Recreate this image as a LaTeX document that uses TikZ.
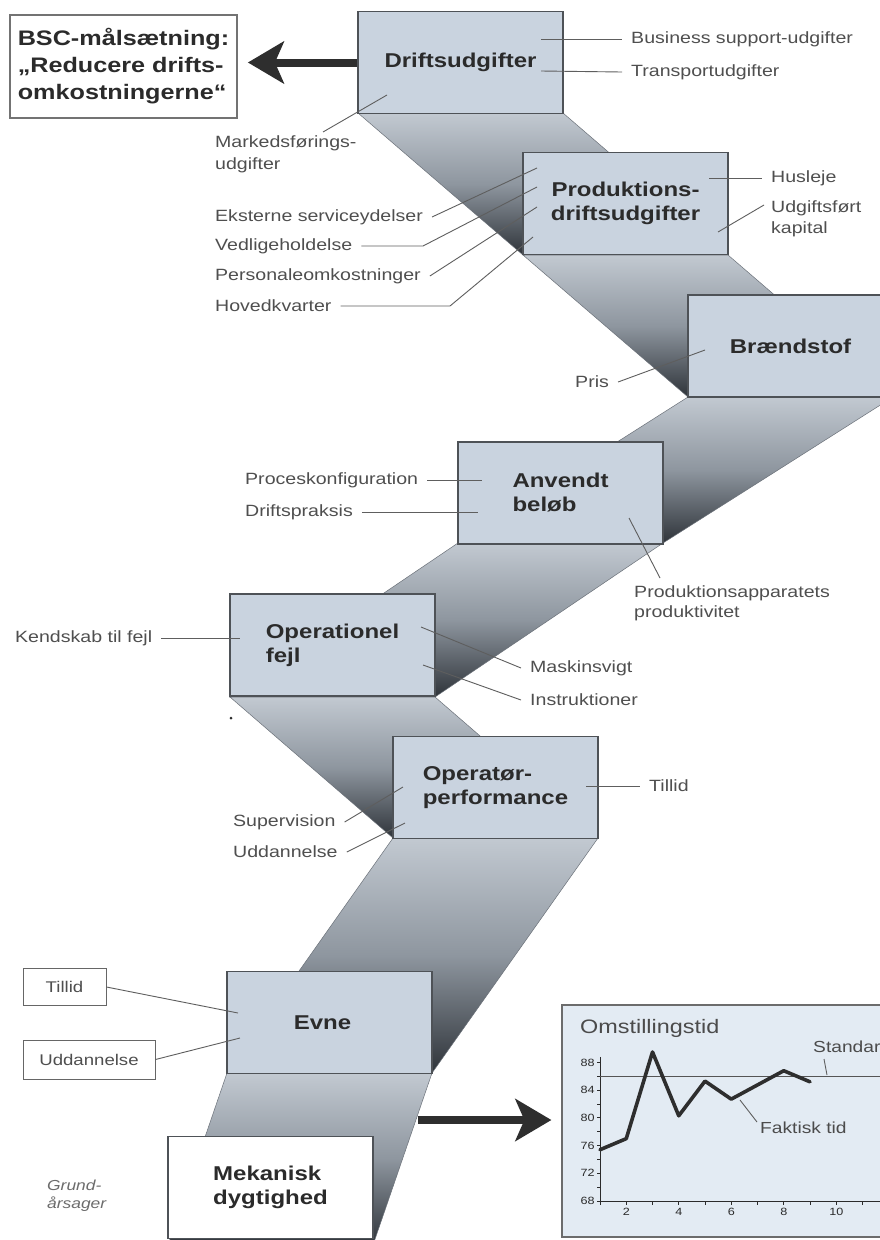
\documentclass[tikz,border=0pt]{standalone}
\usepackage{fontspec}
\setmainfont{Liberation Sans}[FakeStretch=1.2]
\usetikzlibrary{arrows.meta}

\definecolor{boxfill}{HTML}{C9D3DF}
\definecolor{boxline}{HTML}{4E5257}
\definecolor{ribtop}{HTML}{C2C9D1}
\definecolor{ribmid}{HTML}{8E969F}
\definecolor{ribbot}{HTML}{2F343A}
\definecolor{ribedge}{HTML}{6B7179}
\definecolor{txtdark}{HTML}{2B2B2B}
\definecolor{txtgray}{HTML}{4F4F4F}
\definecolor{leadcol}{HTML}{5E5E5E}
\definecolor{chartfill}{HTML}{E3EBF3}
\definecolor{arrowcol}{HTML}{2E2E2E}

\begin{document}
\begin{tikzpicture}[x=1pt,y=-1pt,
  stepbox/.style={draw=boxline, line width=1.1pt, fill=boxfill, inner sep=0pt,
    minimum width=205pt, minimum height=102pt, align=left, text=txtdark,
    font=\bfseries\fontsize{20}{24}\selectfont},
  rootbox/.style={stepbox, fill=white},
  goalbox/.style={draw=gray!90!black, line width=1.8pt, fill=white, inner sep=0pt,
    minimum width=227pt, minimum height=103pt, align=left, text=txtdark,
    font=\bfseries\fontsize{21}{27}\selectfont},
  lbl/.style={font=\fontsize{16.3}{21}\selectfont, text=txtgray, inner xsep=9pt,
    inner ysep=1pt, anchor=west, align=left},
  smallbox/.style={draw=gray!80!black, line width=1pt, fill=white, inner sep=0pt,
    font=\fontsize{15.5}{18}\selectfont, text=txtgray},
  lead/.style={draw=leadcol, line width=0.9pt},
  ribbon/.style={top color=ribtop, bottom color=ribbot, middle color=ribmid,
    draw=ribedge, line width=0.5pt},
  bigarrow/.style={draw=arrowcol, line width=8pt, shorten >=10pt,
    -{Stealth[length=36pt,width=42pt,inset=9pt]}},
]
\useasboundingbox (0,0) rectangle (880,1240);
\fill[white] (0,0) rectangle (880,1240);
\clip (0,0) rectangle (880,1240);

% folded band running down the staircase
\shadedraw[ribbon] (358,113) -- (563,113) -- (728,255) -- (523,255) -- cycle;
\shadedraw[ribbon] (523,255) -- (728,255) -- (893,397) -- (688,397) -- cycle;
\shadedraw[ribbon] (688,397) -- (893,397) -- (663,543) -- (458,543) -- cycle;
\shadedraw[ribbon] (458,543) -- (663,543) -- (435,697) -- (230,697) -- cycle;
\shadedraw[ribbon] (230,697) -- (435,697) -- (598,838) -- (393,838) -- cycle;
\shadedraw[ribbon] (393,838) -- (598,838) -- (432,1073) -- (227,1073) -- cycle;
\shadedraw[ribbon] (227,1073) -- (432,1073) -- (373,1245) -- (168,1245) -- cycle;

% steps
\node[stepbox] (drift) at (460.5,62.5) {Driftsudgifter};
\node[stepbox, align=center] (prod)  at (625.5,203.5) {Produktions-\\driftsudgifter};
\node[stepbox, text depth=0pt] (brand) at (790.5,346) {Brændstof};
\node[stepbox] (anv)   at (560.5,493) {Anvendt\\beløb};
\node[stepbox] (opf)   at (332.5,645) {Operationel\\fejl};
\node[stepbox] (opp)   at (495.5,787.5) {Operatør-\\performance};
\node[stepbox, text width=190pt, align=center] (evne)  at (329.5,1022.5) {\hspace*{-14pt}Evne};
\node[rootbox] (mek)   at (270.5,1187.5) {Mekanisk\\dygtighed};

% goal
\node[goalbox] (bsc) at (123.5,66.5) {BSC-målsætning:\\„Reducere drifts-\\omkostningerne“};
\draw[bigarrow] (drift.west) -- (bsc.east |- drift.west);

% labels around the steps
\node[lbl] (l-bsu) at (622,39) {Business support-udgifter};
\node[lbl] (l-tra) at (622,72) {Transportudgifter};
\node[lbl, font=\fontsize{16.3}{22}\selectfont] (l-mar) at (206,154) {Markedsførings-\\udgifter};
\node[lbl] (l-hus) at (762,178) {Husleje};
\node[lbl] (l-udg) at (762,219) {Udgiftsført\\kapital};
\node[lbl] (l-eks) at (206,217) {Eksterne serviceydelser};
\node[lbl] (l-ved) at (206,246) {Vedligeholdelse};
\node[lbl] (l-per) at (206,276) {Personaleomkostninger};
\node[lbl] (l-hov) at (206,306) {Hovedkvarter};
\node[lbl] (l-pri) at (566,382) {Pris};
\node[lbl] (l-pro) at (236,480) {Proceskonfiguration};
\node[lbl] (l-dri) at (236,512) {Driftspraksis};
\node[lbl, font=\fontsize{16.3}{20}\selectfont] (l-pap) at (625,603) {Produktionsapparatets\\produktivitet};
\node[lbl] (l-ken) at (6,638) {Kendskab til fejl};
\node[lbl] (l-mas) at (521,668) {Maskinsvigt};
\node[lbl] (l-ins) at (521,700) {Instruktioner};
\node[lbl] (l-til) at (640,786) {Tillid};
\node[lbl] (l-sup) at (224,822) {Supervision};
\node[lbl] (l-udd) at (224,852) {Uddannelse};

% leader end points
\coordinate (p-bsu) at (541,39);
\coordinate (p-tra) at (541,71);
\coordinate (p-mar) at (387,95);
\coordinate (q-mar) at (323,132);
\coordinate (p-hus) at (709,178);
\coordinate (p-udg) at (718,232);
\coordinate (q-udg) at (764,205);
\coordinate (p-eks) at (537,168);
\coordinate (k-ved) at (423,246);
\coordinate (p-ved) at (537,187);
\coordinate (p-per) at (537,207);
\coordinate (k-hov) at (450,306);
\coordinate (p-hov) at (533,237);
\coordinate (p-pri) at (705,350);
\coordinate (p-pro) at (482,480);
\coordinate (p-dri) at (478,512);
\coordinate (p-pap) at (629,518);
\coordinate (q-pap) at (660,578);
\coordinate (p-ken) at (240,638);
\coordinate (p-mas) at (421,627);
\coordinate (p-ins) at (423,665);
\coordinate (p-til) at (586,786);
\coordinate (p-sup) at (403,787);
\coordinate (p-udd) at (405,823);
\coordinate (p-evt) at (238,1013);
\coordinate (p-evu) at (240,1038);

\draw[lead] (p-bsu) -- (l-bsu.west);
\draw[lead] (p-tra) -- (l-tra.west);
\draw[lead] (p-mar) -- (q-mar);
\draw[lead] (p-hus) -- (l-hus.west);
\draw[lead] (p-udg) -- (q-udg);
\draw[lead] (l-eks.east) -- (p-eks);
\draw[lead] (l-ved.east) -- (k-ved) -- (p-ved);
\draw[lead] (l-per.east) -- (p-per);
\draw[lead] (l-hov.east) -- (k-hov) -- (p-hov);
\draw[lead] (l-pri.east) -- (p-pri);
\draw[lead] (l-pro.east) -- (p-pro);
\draw[lead] (l-dri.east) -- (p-dri);
\draw[lead] (p-pap) -- (q-pap);
\draw[lead] (l-ken.east) -- (p-ken);
\draw[lead] (p-mas) -- (l-mas.west);
\draw[lead] (p-ins) -- (l-ins.west);
\draw[lead] (p-til) -- (l-til.west);
\draw[lead] (l-sup.east) -- (p-sup);
\draw[lead] (l-udd.east) -- (p-udd);

% root cause boxes
\node[smallbox, minimum width=83pt, minimum height=37pt] (b-til) at (64.5,987) {Tillid};
\node[smallbox, minimum width=132pt, minimum height=39pt] (b-udd) at (89,1059.5) {Uddannelse};
\draw[lead] (b-til.east) -- (p-evt);
\draw[lead] (b-udd.east) -- (p-evu);
\node[anchor=west, inner sep=0pt, align=left, text=gray!85!black,
  font=\itshape\fontsize{14.5}{18}\selectfont] (grund) at (47,1196) {Grund-\\årsager};

\fill[txtdark] (231,718) circle (1.5);

% changeover chart
\node[draw=gray!85!black, line width=1.2pt, fill=chartfill, inner sep=0pt,
  minimum width=333pt, minimum height=232pt] (chart) at (728.5,1121) {};
\node[anchor=west, inner sep=0pt, text=txtdark!85,
  font=\fontsize{19.5}{22}\selectfont] (c-ttl) at (580,1028) {Omstillingstid};

\coordinate (a-start) at (418,1120);
\draw[bigarrow] (a-start) -- (chart.west |- a-start);

\begin{scope}[shift={(600,1201)}, x=26.25pt, y=6.93pt]
  \draw[line width=1pt, txtdark] (0,20.8) -- (0,0) -- (11.4,0);
  \foreach \v in {0,2,...,20} \draw[line width=0.8pt, txtdark] (0,\v) -- (-0.12,\v);
  \foreach \v in {68,72,...,88}
    \node[anchor=east, inner sep=0pt, text=txtdark, font=\fontsize{10.5}{10}\selectfont]
      (yt\v) at (-0.2,\v-68) {\v};
  \foreach \i in {1,...,12} \draw[line width=0.8pt, txtdark] (\i-1,0) -- (\i-1,-0.6);
  \foreach \i in {2,4,...,12}
    \node[inner sep=0pt, text=txtdark, font=\fontsize{10.5}{10}\selectfont]
      (xt\i) at (\i-1,-1.6) {\i};
  \draw[line width=1pt, txtdark!80] (0,18) -- (11.4,18);
  \draw[line width=3.6pt, arrowcol, line join=round, line cap=round]
    (0,7.4) -- (1,9) -- (2,21.5) -- (3,12.3) -- (4,17.3) -- (5,14.7)
    -- (7,18.8) -- (8,17.2);
\end{scope}

\node[lbl, text=txtdark!85, font=\fontsize{16}{18}\selectfont] (c-std) at (804,1047) {Standard};
\node[lbl, text=txtdark!85, font=\fontsize{16}{18}\selectfont] (c-fak) at (751,1128) {Faktisk tid};
\coordinate (p-std) at (827,1075);
\coordinate (q-std) at (824,1059);
\coordinate (p-fak) at (740,1100);
\coordinate (q-fak) at (757,1122);
\draw[lead] (p-std) -- (q-std);
\draw[lead] (p-fak) -- (q-fak);
\end{tikzpicture}
\end{document}
